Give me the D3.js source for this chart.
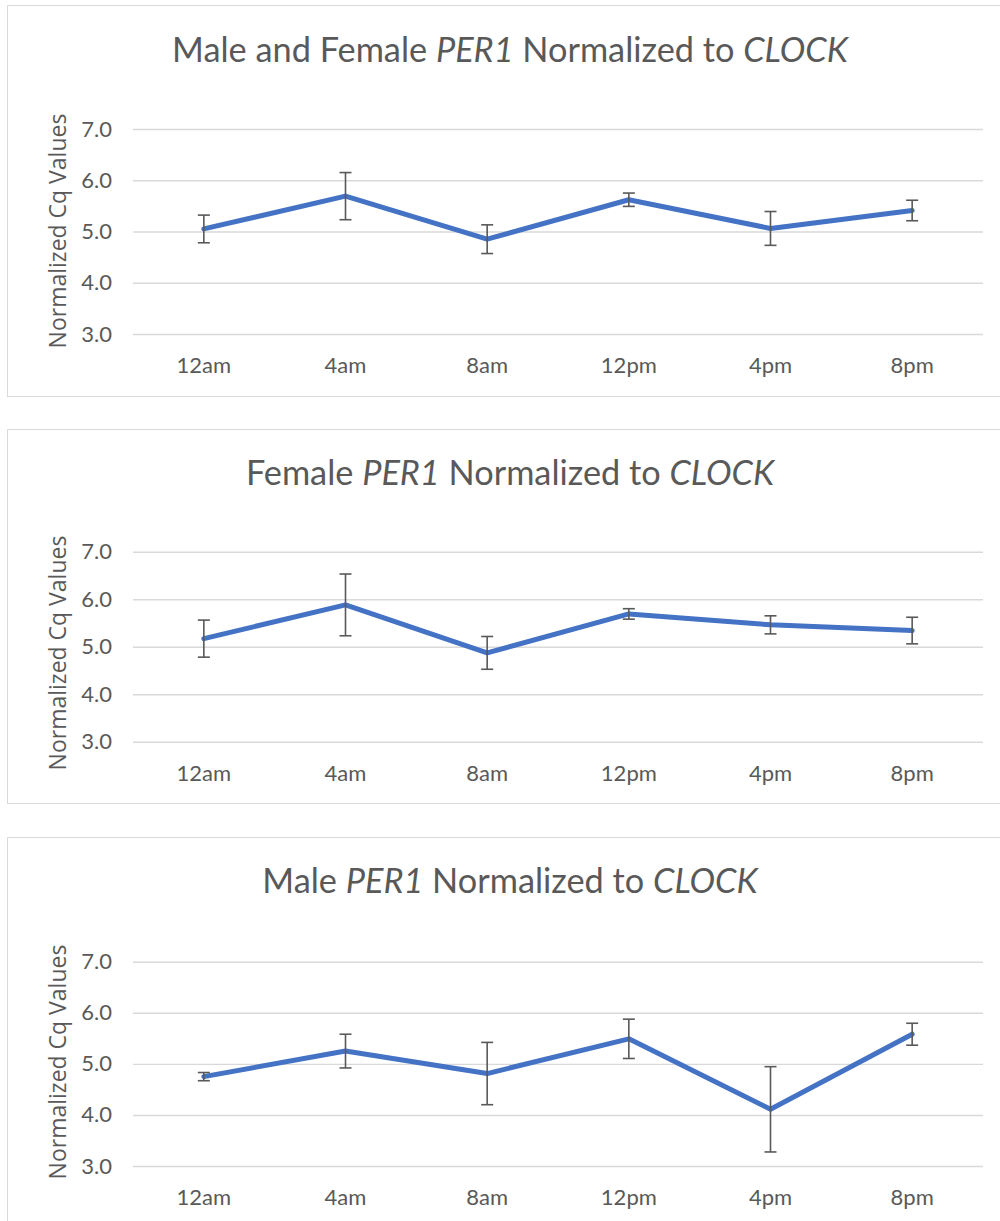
<!DOCTYPE html>
<html>
<head>
<meta charset="utf-8">
<script src="https://cdn.jsdelivr.net/npm/d3@7/dist/d3.min.js"></script>
<style>
  html, body { margin: 0; padding: 0; background: #fff; }
  svg { display: block; }
</style>
</head>
<body>
<svg id="chart" width="1000" height="1221"></svg>
<script>
// ---- data ----
const categories = ["12am", "4am", "8am", "12pm", "4pm", "8pm"];
const yTicks = [3, 4, 5, 6, 7];
const yAxisTitle = "Normalized Cq Values";

const titleCombined = [["Male and Female ", false], ["PER1", true], [" Normalized to ", false], ["CLOCK", true]];
const titleFemale = [["Female ", false], ["PER1", true], [" Normalized to ", false], ["CLOCK", true]];
const titleMale = [["Male ", false], ["PER1", true], [" Normalized to ", false], ["CLOCK", true]];

const combinedMeans = [5.05, 5.69, 4.85, 5.62, 5.06, 5.41];
const combinedErr   = [0.27, 0.46, 0.28, 0.13, 0.33, 0.20];
const femaleMeans   = [5.17, 5.88, 4.87, 5.69, 5.46, 5.34];
const femaleErr     = [0.39, 0.65, 0.345, 0.11, 0.19, 0.28];
const maleMeans     = [4.75, 5.25, 4.81, 5.49, 4.11, 5.58];
const maleErr       = [0.08, 0.33, 0.61, 0.385, 0.835, 0.215];

// ---- layout ----
const panels = [
  { title: titleCombined, means: combinedMeans, errs: combinedErr,
    boxTop: 5.5, boxBottom: 396.5, plotTop: 129, plotBottom: 334, titleY: 62, xLabelY: 365, yTitleY: 231 },
  { title: titleFemale, means: femaleMeans, errs: femaleErr,
    boxTop: 429.5, boxBottom: 803.5, plotTop: 551.7, plotBottom: 741.7, titleY: 485, xLabelY: 773, yTitleY: 653 },
  { title: titleMale, means: maleMeans, errs: maleErr,
    boxTop: 837.5, boxBottom: 1240, plotTop: 961.7, plotBottom: 1166, titleY: 893, xLabelY: 1197, yTitleY: 1062 }
];

const plotLeft = 133, plotRight = 983;
const textColor = "#595959";
const gridColor = "#d9d9d9";
const lineColor = "#4472C4";
const baseFont = "Lato, 'Open Sans', sans-serif";

const svg = d3.select("#chart");

const x = d3.scaleBand().domain(categories).range([plotLeft, plotRight]).padding(0);

panels.forEach(p => {
  const g = svg.append("g");

  // chart border
  g.append("rect")
    .attr("x", 7.5).attr("y", p.boxTop)
    .attr("width", 1010).attr("height", p.boxBottom - p.boxTop)
    .attr("fill", "#fff").attr("stroke", gridColor).attr("stroke-width", 1);

  const y = d3.scaleLinear().domain([3, 7]).range([p.plotBottom, p.plotTop]);

  // gridlines + y tick labels via axis
  const yAxis = d3.axisLeft(y).tickValues(yTicks).tickFormat(d3.format(".1f"))
    .tickSize(-(plotRight - plotLeft)).tickPadding(21);
  const ya = g.append("g").attr("transform", `translate(${plotLeft},0)`).call(yAxis);
  ya.select(".domain").remove();
  ya.selectAll(".tick line").attr("stroke", gridColor).attr("stroke-width", 1.4);
  ya.selectAll(".tick text")
    .attr("fill", textColor).style("font-family", baseFont).style("font-size", "22px");

  // x axis labels
  const xAxis = d3.axisBottom(x).tickSize(0).tickPadding(0);
  const xa = g.append("g").attr("transform", `translate(0,${p.xLabelY})`).call(xAxis);
  xa.select(".domain").remove();
  xa.selectAll(".tick text")
    .attr("fill", textColor).attr("dy", "0.35em").attr("y", 0)
    .style("font-family", baseFont).style("font-size", "22px");

  // y axis title
  g.append("text")
    .attr("transform", `translate(58,${p.yTitleY}) rotate(-90)`)
    .attr("text-anchor", "middle").attr("dy", "0.35em")
    .attr("fill", textColor)
    .style("font-family", "'Open Sans', sans-serif").style("font-size", "23px")
    .text(yAxisTitle);

  // chart title
  const t = g.append("text")
    .attr("x", 510).attr("y", p.titleY)
    .attr("text-anchor", "middle").attr("fill", textColor)
    .style("font-family", baseFont).style("font-size", "34.3px");
  p.title.forEach(([s, it]) => {
    t.append("tspan").text(s).style("font-style", it ? "italic" : "normal");
  });

  const cx = d => x(d) + x.bandwidth() / 2;
  const pts = categories.map((c, i) => ({ c, v: p.means[i], e: p.errs[i] }));

  // line
  const line = d3.line().x(d => cx(d.c)).y(d => y(d.v));
  g.append("path").datum(pts)
    .attr("d", line).attr("fill", "none")
    .attr("stroke", lineColor).attr("stroke-width", 5)
    .attr("stroke-linejoin", "round").attr("stroke-linecap", "round");

  // error bars
  const eb = g.append("g").attr("stroke", textColor).attr("stroke-width", 1.6).attr("fill", "none");
  pts.forEach(d => {
    const xc = cx(d.c);
    eb.append("line").attr("x1", xc).attr("x2", xc).attr("y1", y(d.v + d.e)).attr("y2", y(d.v - d.e));
    eb.append("line").attr("x1", xc - 6).attr("x2", xc + 6).attr("y1", y(d.v + d.e)).attr("y2", y(d.v + d.e));
    eb.append("line").attr("x1", xc - 6).attr("x2", xc + 6).attr("y1", y(d.v - d.e)).attr("y2", y(d.v - d.e));
  });
});
</script>
</body>
</html>
